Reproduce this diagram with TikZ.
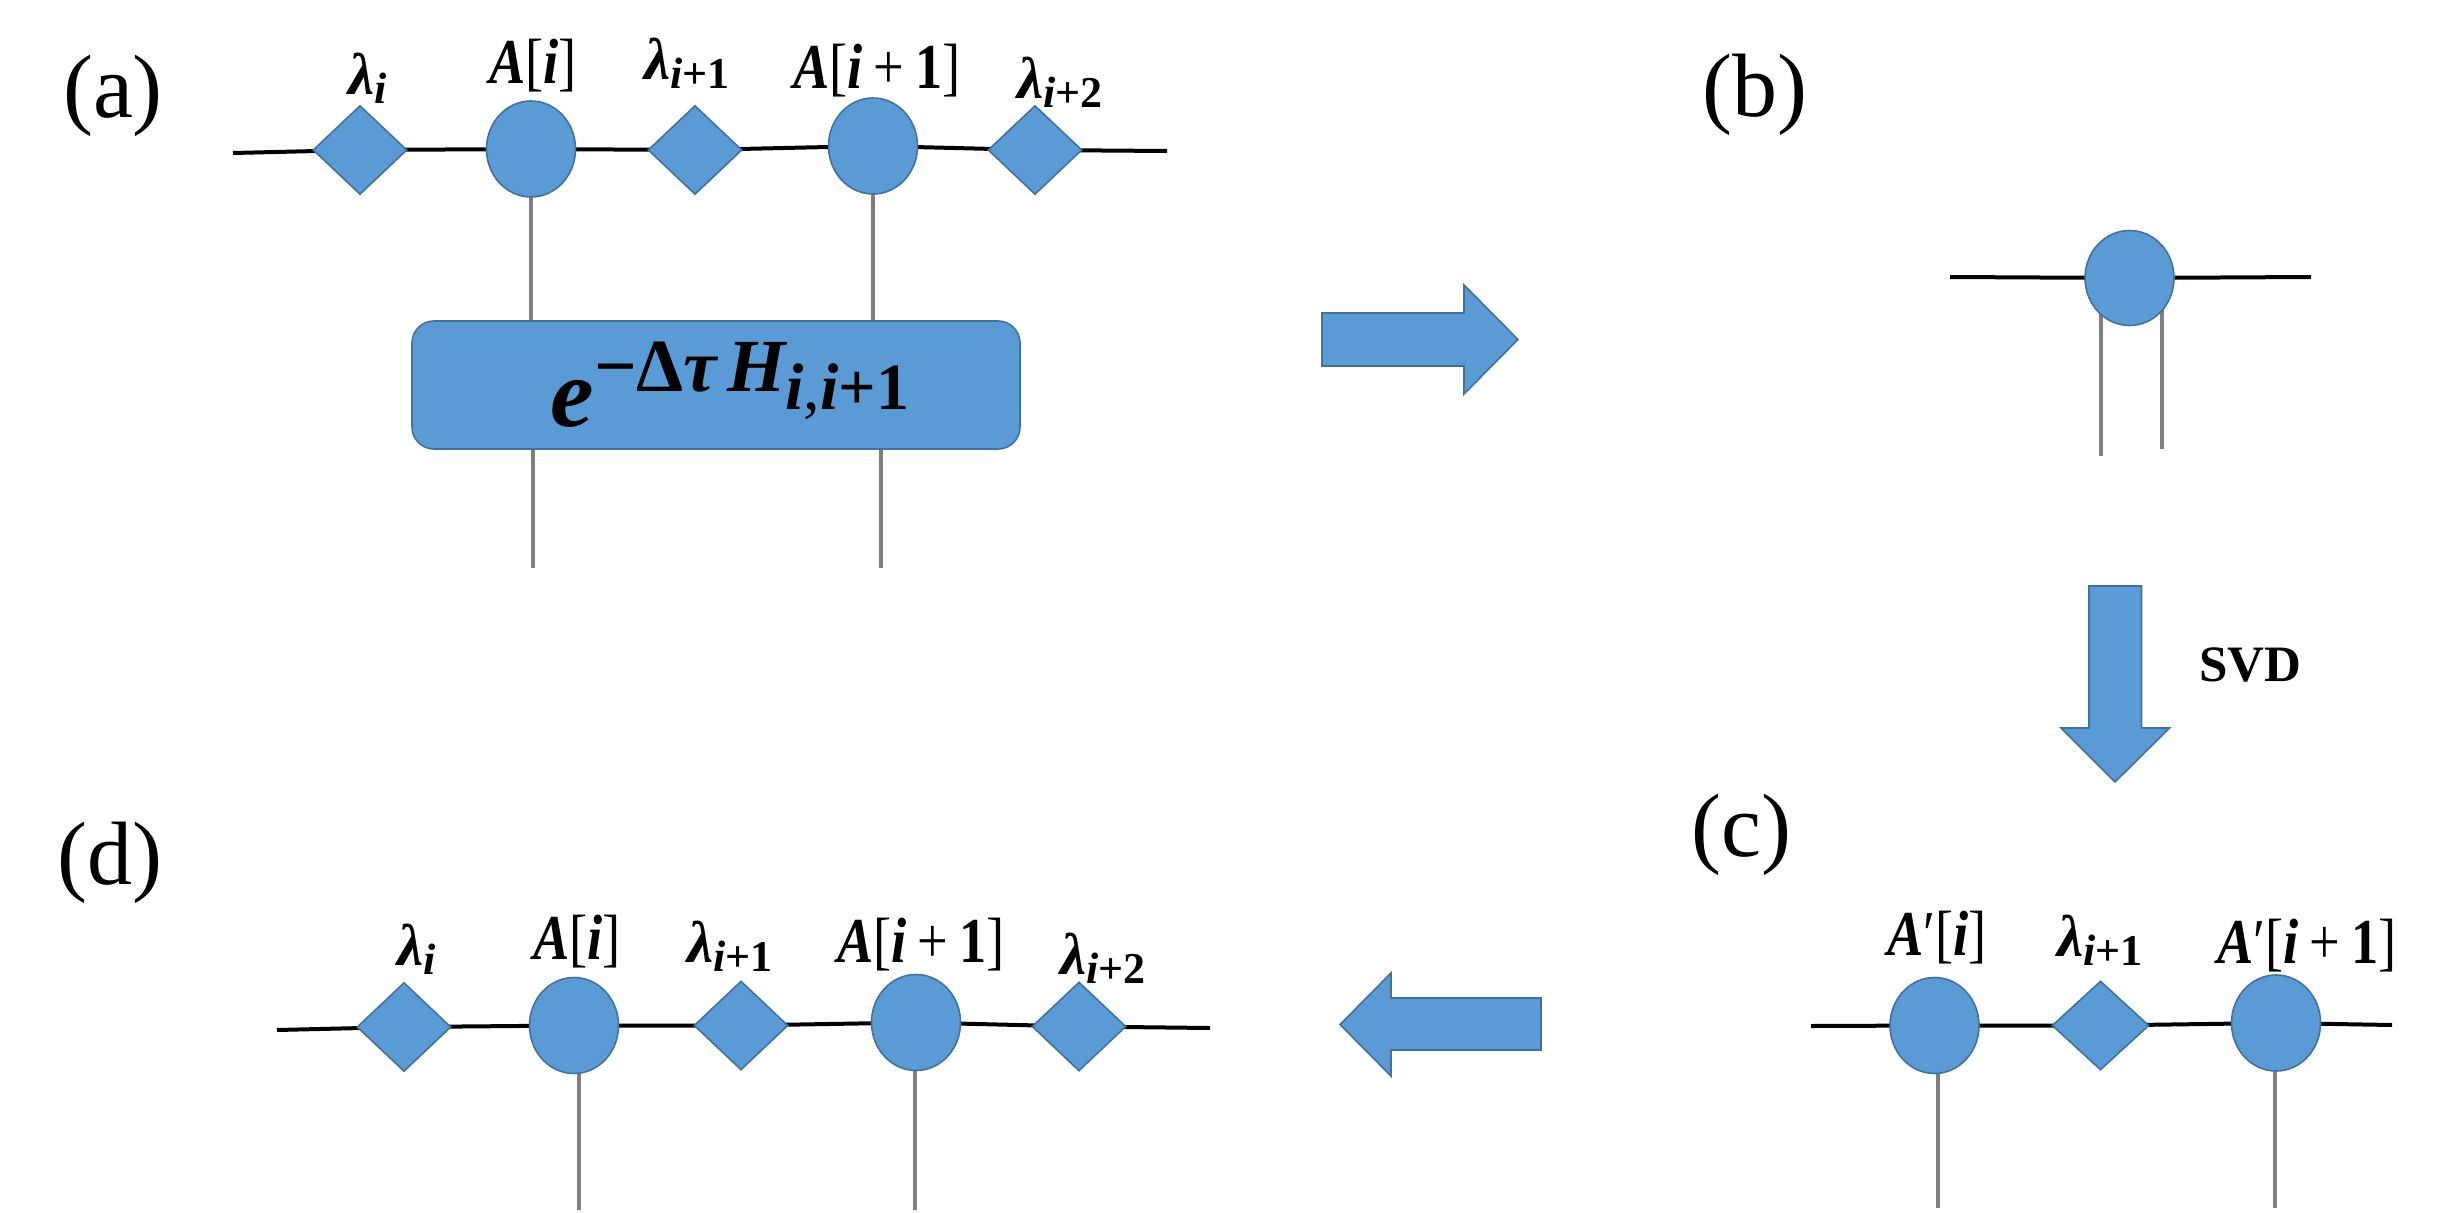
\documentclass[tikz,border=0pt]{standalone}
\usepackage{fontspec}
\setmainfont{Liberation Serif}
\newfontfamily\panelserif{Liberation Serif}
\usepackage{graphicx}
\usetikzlibrary{shapes.geometric}
\definecolor{nodeblue}{HTML}{5B9BD5}
\definecolor{edgeblue}{HTML}{41719C}
\definecolor{leggray}{HTML}{7F7F7F}
\pgfdeclarelayer{background}
\pgfsetlayers{background,main}
\newcommand{\bi}[1]{{\bfseries\itshape #1}}
\newcommand{\bup}[1]{{\bfseries #1}}
\newcommand{\lamlbl}[1]{\scalebox{0.92}{\bi{λ}}\raisebox{-0.14em}{\fontsize{22}{24}\selectfont #1}}
\newcommand{\tenslbl}[1]{\scalebox{0.85}[1]{#1}}
\begin{document}
\begin{tikzpicture}[x=0.5pt,y=-0.5pt,
  tens/.style={ellipse, fill=nodeblue, draw=edgeblue, line width=0.8pt, minimum width=44.5pt, minimum height=48pt, inner sep=0pt},
  lam/.style={diamond, fill=nodeblue, draw=edgeblue, line width=0.8pt, minimum width=47pt, minimum height=44.5pt, inner sep=0pt},
  bond/.style={line width=2pt, black},
  leg/.style={line width=2.2pt, leggray},
  lbl/.style={font=\fontsize{32}{34}\selectfont, inner sep=0pt},
  panel/.style={font=\panelserif\fontsize{45}{50}\selectfont, inner sep=0pt},
  blockarrow/.style={fill=nodeblue, draw=edgeblue, line width=0.8pt, line join=miter},
  gate/.style={rounded corners=11pt, fill=nodeblue, draw=edgeblue, line width=0.8pt, minimum width=304pt, minimum height=64pt, inner sep=0pt},
  svdlbl/.style={font=\panelserif\fontsize{25.5}{28}\selectfont\bfseries, inner sep=0pt}]
\useasboundingbox (0,0) rectangle (2445,1214);

% ---------------- panel (a)
\node[panel] (pa) at (113,96) {(a)};
\node[lam] (ad1) at (360,150) {};
\node[tens] (ac1) at (531,149) {};
\node[lam] (ad2) at (695,150) {};
\node[tens] (ac2) at (873,146) {};
\node[lam] (ad3) at (1035,150) {};
\coordinate (aL) at (233,153);
\coordinate (aR) at (1167,151);
\node[gate] (agate) at (716,385) {\hspace*{14pt}\fontsize{49}{50}\selectfont\bi{e}\raisebox{17.5pt}{\fontsize{37.5}{39}\selectfont\bup{−Δ}\bi{τ}\hspace{5pt}\bi{H}\raisebox{-9pt}{\fontsize{33}{35}\selectfont\bi{i},\bi{i}\bup{+1}}}};
\node[lbl] (alam1) at (368,78) {\lamlbl{\bi{i}}};
\node[lbl] (aA1) at (533,66) {\tenslbl{\bi{A}[\bi{i}]}};
\node[lbl] (alam2) at (687,63) {\lamlbl{\bi{i}\bup{+1}}};
\node[lbl] (aA2) at (877,71) {\tenslbl{\bi{A}[\bi{i}\hspace{0.2em}+\hspace{0.2em}\bup{1}]}};
\node[lbl] (alam3) at (1060,82) {\lamlbl{\bi{i}\bup{+2}}};
\coordinate (aE1) at (533,568);
\coordinate (aE2) at (881,568);

% ---------------- panel (b)
\node[panel] (pb) at (1755,95) {(b)};
\node[tens, minimum height=47.5pt] (bc) at (2129.5,278) {};
\coordinate (bL) at (1950,277);
\coordinate (bR) at (2311,277);
\coordinate (bE1) at (2101,456);
\coordinate (bE2) at (2162,449);

% arrows between panels
\filldraw[blockarrow] (1322,313) -- (1464,313) -- (1464,285) -- (1518,339.5) -- (1464,394) -- (1464,366) -- (1322,366) -- cycle;
\filldraw[blockarrow] (2089,586) -- (2141.5,586) -- (2141.5,728) -- (2169.5,728) -- (2115,782) -- (2061,728) -- (2089,728) -- cycle;
\node[svdlbl] (svd) at (2250,665) {SVD};
\filldraw[blockarrow] (1541,998) -- (1391,998) -- (1391,973) -- (1340,1024.5) -- (1391,1076) -- (1391,1050) -- (1541,1050) -- cycle;

% ---------------- panel (c)
\node[panel] (pc) at (1741,835) {(c)};
\node[tens] (cc1) at (1934.5,1025.5) {};
\node[lam, minimum width=48.5pt] (cd) at (2100.5,1025.5) {};
\node[tens] (cc2) at (2276,1023) {};
\coordinate (cL) at (1811,1026);
\coordinate (cR) at (2392,1025);
\coordinate (cE1) at (1938,1208);
\coordinate (cE2) at (2275,1208);
\node[lbl] (cA1) at (1937,938) {\tenslbl{\bi{A}′[\bi{i}]}};
\node[lbl] (clam) at (2100,940) {\lamlbl{\bi{i}\bup{+1}}};
\node[lbl] (cA2) at (2307,946) {\tenslbl{\bi{A}′[\bi{i}\hspace{0.2em}+\hspace{0.2em}\bup{1}]}};

% ---------------- panel (d)
\node[panel] (pd) at (110,863) {(d)};
\node[lam] (dd1) at (404,1027) {};
\node[tens] (dc1) at (574,1025.5) {};
\node[lam] (dd2) at (741,1025.5) {};
\node[tens] (dc2) at (916,1022.5) {};
\node[lam] (dd3) at (1079,1026.5) {};
\coordinate (dL) at (277,1030);
\coordinate (dR) at (1210,1028);
\coordinate (dE1) at (579,1210);
\coordinate (dE2) at (915,1210);
\node[lbl] (dlam1) at (417,949) {\lamlbl{\bi{i}}};
\node[lbl] (dA1) at (577,942) {\tenslbl{\bi{A}[\bi{i}]}};
\node[lbl] (dlam2) at (730,946) {\lamlbl{\bi{i}\bup{+1}}};
\node[lbl] (dA2) at (921,945) {\tenslbl{\bi{A}[\bi{i}\hspace{0.2em}+\hspace{0.2em}\bup{1}]}};
\node[lbl] (dlam3) at (1103,958) {\lamlbl{\bi{i}\bup{+2}}};

% ---------------- bonds and legs (behind the tensors)
\begin{pgfonlayer}{background}
\draw[bond] (aL) -- (ad1.center) -- (ac1.center) -- (ad2.center) -- (ac2.center) -- (ad3.center) -- (aR);
\draw[leg] (ac1.center) -- (ac1.center |- agate.center);
\draw[leg] (ac2.center) -- (ac2.center |- agate.center);
\draw[leg] (aE1 |- agate.center) -- (aE1);
\draw[leg] (aE2 |- agate.center) -- (aE2);
\draw[bond] (bL) -- (bc.center) -- (bR);
\draw[leg] (bE1 |- bc.center) -- (bE1);
\draw[leg] (bE2 |- bc.center) -- (bE2);
\draw[bond] (cL) -- (cc1.center) -- (cd.center) -- (cc2.center) -- (cR);
\draw[leg] (cE1 |- cc1.center) -- (cE1);
\draw[leg] (cE2 |- cc2.center) -- (cE2);
\draw[bond] (dL) -- (dd1.center) -- (dc1.center) -- (dd2.center) -- (dc2.center) -- (dd3.center) -- (dR);
\draw[leg] (dE1 |- dc1.center) -- (dE1);
\draw[leg] (dE2 |- dc2.center) -- (dE2);
\end{pgfonlayer}
\end{tikzpicture}
\end{document}
